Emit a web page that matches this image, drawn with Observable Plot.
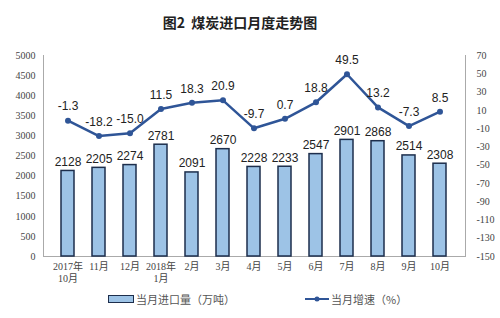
<!DOCTYPE html>
<html><head><meta charset="utf-8">
<script src="https://cdn.jsdelivr.net/npm/d3@7"></script>
<script src="https://cdn.jsdelivr.net/npm/@observablehq/plot@0.6"></script>
<style>
body{margin:0;background:#fff;width:500px;height:318px;overflow:hidden;font-family:"Noto Sans CJK SC",sans-serif;}
#title{height:40px;box-sizing:border-box;padding-top:12px;text-align:center;padding-right:20px;font-size:14px;font-weight:bold;color:#222;}
#legend{display:flex;align-items:center;font-size:11px;color:#555;height:18px;}
.sw{display:inline-block;}
</style></head><body>
<div id="title">图2&nbsp;&nbsp;煤炭进口月度走势图</div>
<div id="chart"></div>
<div id="legend">
  <span style="width:108px"></span>
  <span class="sw" style="width:24px;height:6px;background:#9DC3E6;border:1.5px solid #1d2e4c;"></span>
  <span style="margin-left:2px">当月进口量（万吨）</span>
  <span style="width:70px"></span>
  <svg width="24" height="8"><line x1="0" y1="4" x2="24" y2="4" stroke="#2F5597" stroke-width="2"/><circle cx="12" cy="4" r="2.5" fill="#2F5597"/></svg>
  <span style="margin-left:2px">当月增速（%）</span>
</div>
<script>
const months = ["2017年\n10月","11月","12月","2018年\n1月","2月","3月","4月","5月","6月","7月","8月","9月","10月"];
const imports = [2128,2205,2274,2781,2091,2670,2228,2233,2547,2901,2868,2514,2308];
const growth = [-1.3,-18.2,-15.0,11.5,18.3,20.9,-9.7,0.7,18.8,49.5,13.2,-7.3,8.5];
const leftTicks = [0,500,1000,1500,2000,2500,3000,3500,4000,4500,5000];
const rightTicks = [-150,-130,-110,-90,-70,-50,-30,-10,10,30,50,70];

const gMin = -150, gMax = 70, yMax = 5000;
const toY = g => (g - gMin) / (gMax - gMin) * yMax;
const data = months.map((m,i)=>({m, v: imports[i], g: growth[i], gy: toY(growth[i])}));
const serif = "Liberation Serif, Noto Sans CJK SC, serif";

const chart = Plot.plot({
  width: 500, height: 250,
  marginLeft: 43, marginRight: 35, marginTop: 15, marginBottom: 34,
  style: {fontSize: "10px", color: "#444", background: "#fff"},
  x: {domain: months, padding: 0.58, label: null},
  y: {domain: [0, yMax], label: null},
  marks: [
    Plot.frame({anchor: "left", stroke: "#aaa"}),
    Plot.frame({anchor: "right", stroke: "#aaa"}),
    Plot.ruleY([0], {stroke: "#aaa"}),
    Plot.axisY(leftTicks, {anchor: "left", tickSize: 0, tickPadding: 8, label: null, fontFamily: serif, tickFormat: d => String(d)}),
    Plot.axisY(rightTicks.map(toY), {anchor: "right", tickSize: 0, tickPadding: 11, label: null, fontFamily: serif,
      tickFormat: v => String(Math.round(v / yMax * (gMax - gMin) + gMin))}),
    Plot.axisX({tickSize: 0, tickPadding: 5, label: null, lineHeight: 1.2, fontSize: 10, fontFamily: serif}),
    Plot.barY(data, {x: "m", y: "v", fill: "#9DC3E6", stroke: "#1d2e4c", strokeWidth: 1.5}),
    Plot.text(data, {x: "m", y: "v", text: d => String(d.v), dy: -9, fontSize: 12, fill: "#222", fontFamily: "Liberation Sans, Arial, sans-serif"}),
    Plot.line(data, {x: "m", y: "gy", stroke: "#2F5597", strokeWidth: 2.5}),
    Plot.dot(data, {x: "m", y: "gy", r: 3, fill: "#2F5597"}),
    Plot.text(data, {x: "m", y: "gy", text: d => d.g.toFixed(1), dy: -14, fontSize: 12, fill: "#222", fontFamily: "Liberation Sans, Arial, sans-serif"})
  ]
});
document.getElementById("chart").append(chart);
</script>
</body></html>
